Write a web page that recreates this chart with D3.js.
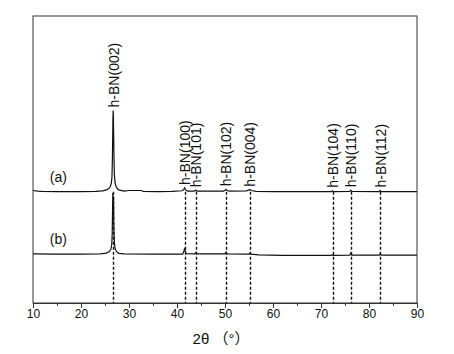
<!DOCTYPE html>
<html>
<head>
<meta charset="utf-8">
<script src="https://cdn.jsdelivr.net/npm/d3@7"></script>
<style>
  body { margin: 0; background: #fff; }
  text { font-family: Arial, "Liberation Sans", "Noto Sans CJK SC", sans-serif; }
</style>
</head>
<body>
<div id="xrd"></div>
<script>
// peak positions (2theta, deg) and their labels
var peakPos = [26.7, 41.6, 43.9, 50.2, 55.2, 72.4, 76.2, 82.3];
var peakLabels = ["h-BN(002)", "h-BN(100)", "h-BN(101)", "h-BN(102)",
                  "h-BN(004)", "h-BN(104)", "h-BN(110)", "h-BN(112)"];

var xTicks = [10, 20, 30, 40, 50, 60, 70, 80, 90];
var xMinorTicks = [15, 25, 35, 45, 55, 65, 75, 85];

var seriesNames = ["(a)", "(b)"];

// trace (a): 2theta and intensity above its own baseline (a.u.)
var thetaA = [10, 11, 12, 15, 20, 23, 24.5, 25.3, 25.8, 26.1, 26.3, 26.45, 26.55, 26.65, 26.7,
              26.75, 26.85, 26.95, 27.1, 27.3, 27.6, 28.0, 29, 30, 32.5, 33, 36, 39,
              41.0, 41.4, 41.6, 41.8, 42.2, 43.6, 43.9, 44.2, 46, 49.7, 50.0, 50.2, 50.45, 51,
              54.5, 55.0, 55.2, 55.5, 56.5, 60, 72.2, 72.4, 72.6, 76.0, 76.2, 76.4,
              82.1, 82.3, 82.5, 90];
var intA = [0.4, 0.2, 0.1, 0, 0, 0.1, 0.3, 0.6, 1.1, 1.8, 2.8, 5, 12, 25, 28.3,
            26, 14, 6, 3, 1.8, 1.0, 0.5, 0.2, 0.4, 0.4, 0.1, 0, 0.1,
            0.3, 0.7, 1.3, 0.6, 0.2, 0.2, 0.5, 0.2, 0.2, 0.2, 0.5, 0.8, 0.4, 0.2,
            0.3, 0.6, 0.7, 0.4, 0.1, 0, 0, 0.3, 0, 0.1, 0.5, 0.1,
            0, 0.4, 0, 0];

// trace (b)
var thetaB = [10, 14, 20, 24, 25.3, 25.9, 26.2, 26.4, 26.5, 26.58, 26.63, 26.7, 26.78,
              26.85, 26.95, 27.1, 27.4, 27.9, 29, 35, 41.2, 41.45, 41.55, 41.65, 41.9,
              43.7, 43.9, 44.1, 50.0, 50.2, 50.4, 55.0, 55.2, 55.4, 57, 62,
              72.2, 72.4, 72.6, 76.0, 76.2, 76.4, 82.1, 82.3, 82.5, 90];
var intB = [0.1, 0, 0, 0.1, 0.4, 0.9, 1.6, 3.2, 7, 16, 21.3, 19, 20,
            10, 4, 2, 0.9, 0.3, 0.1, 0, 0, 1.2, 1.8, 1.4, 0.2,
            0.1, 0.6, 0.1, 0.1, 0.7, 0.1, 0, 0.4, 0, -0.2, -0.4,
            -0.4, -0.1, -0.4, -0.3, 0.3, -0.3, -0.3, 0.1, -0.3, -0.3];

var W = 454, H = 354,
    margin = {top: 16, right: 37, bottom: 51, left: 33},
    offsetA = 38.8,
    offsetB = 17.0;

var svg = d3.select("#xrd").append("svg")
    .attr("width", W)
    .attr("height", H);

var x = d3.scaleLinear()
    .domain([10, 90])
    .range([margin.left, W - margin.right]);

var y = d3.scaleLinear()
    .domain([0, 100])
    .range([H - margin.bottom, margin.top]);

// dashed reference lines (snapped to the pixel grid so they stay crisp)
svg.selectAll("line.ref")
  .data(peakPos)
  .enter().append("line")
    .attr("class", "ref")
    .attr("x1", function (d) { return Math.round(x(d)) + 0.5; })
    .attr("x2", function (d) { return Math.round(x(d)) + 0.5; })
    .attr("y1", y(offsetA))
    .attr("y2", y(0))
    .attr("stroke", "#111")
    .attr("stroke-width", 1.4)
    .attr("stroke-dasharray", "3,2");

var line = d3.line()
    .x(function (d) { return x(d[0]); })
    .y(function (d) { return y(d[1]); });

var ptsA = thetaA.map(function (t, i) { return [t, intA[i] + offsetA]; });
var ptsB = thetaB.map(function (t, i) { return [t, intB[i] + offsetB]; });

svg.append("path")
    .datum(ptsA)
    .attr("d", line)
    .attr("fill", "none")
    .attr("stroke", "#111")
    .attr("stroke-width", 1.2);

svg.append("path")
    .datum(ptsB)
    .attr("d", line)
    .attr("fill", "none")
    .attr("stroke", "#111")
    .attr("stroke-width", 1.2);

// peak labels, rotated, sitting just above trace (a)
function heightAt(t) {
  var best = 0, bd = 1e9;
  thetaA.forEach(function (v, i) {
    if (Math.abs(v - t) < bd) { bd = Math.abs(v - t); best = intA[i]; }
  });
  return best;
}

svg.selectAll("text.peak")
  .data(peakPos)
  .enter().append("text")
    .attr("class", "peak")
    .attr("transform", function (d) {
      return "translate(" + (x(d) + 5.5) + "," + (y(offsetA + heightAt(d)) - 3) + ") rotate(-90)";
    })
    .attr("font-size", "14px")
    .attr("fill", "#111")
    .text(function (d, i) { return peakLabels[i]; });

// series names
svg.selectAll("text.series")
  .data([offsetA, offsetB])
  .enter().append("text")
    .attr("class", "series")
    .attr("x", x(13.5))
    .attr("y", function (d) { return y(d) - 10; })
    .attr("font-size", "14px")
    .attr("fill", "#111")
    .text(function (d, i) { return seriesNames[i]; });

// frame
svg.append("rect")
    .attr("x", x(10))
    .attr("y", margin.top)
    .attr("width", x(90) - x(10))
    .attr("height", y(0) - margin.top)
    .attr("fill", "none")
    .attr("stroke", "#333")
    .attr("stroke-width", 1);

// bottom axis
var xAxis = svg.append("g")
    .attr("transform", "translate(0," + y(0) + ")")
    .call(d3.axisBottom(x).tickValues(xTicks).tickSize(5).tickSizeOuter(0));
xAxis.select(".domain").attr("stroke", "#333");
xAxis.selectAll(".tick line").attr("stroke", "#333");
xAxis.selectAll(".tick text")
    .attr("font-size", "12px")
    .attr("font-family", "Arial, 'Liberation Sans', sans-serif")
    .attr("fill", "#111")
    .attr("dy", "0.55em");

svg.append("g")
    .attr("transform", "translate(0," + y(0) + ")")
    .call(d3.axisBottom(x).tickValues(xMinorTicks).tickSize(3).tickFormat(""))
    .call(function (g) { g.select(".domain").remove(); })
    .selectAll(".tick line").attr("stroke", "#333");

svg.append("text")
    .attr("x", 221)
    .attr("y", 344)
    .attr("text-anchor", "middle")
    .attr("font-size", "15px")
    .attr("fill", "#111")
    .text("2θ （°）");
</script>
</body>
</html>
